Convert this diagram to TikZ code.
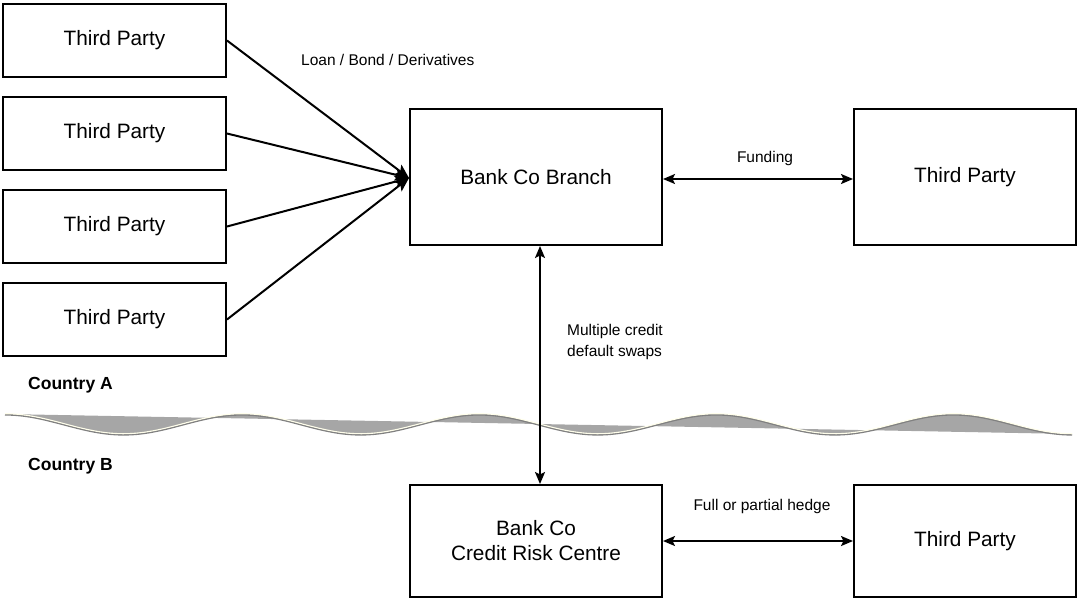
\documentclass[tikz,border=0pt]{standalone}
\usepackage{fontspec}
\setmainfont{Liberation Sans}
\usetikzlibrary{arrows.meta,calc}
\tikzset{
  box/.style={draw=black, line width=2pt, minimum width=223pt, minimum height=73pt, inner sep=0pt,
    font=\fontsize{20.8}{25}\selectfont, align=center},
  bigbox/.style={box, minimum width=252pt, minimum height=136pt},
  rbox/.style={box, minimum width=222pt, minimum height=136pt},
  lowbox/.style={box, minimum width=252pt, minimum height=112pt},
  lowrbox/.style={box, minimum width=222pt, minimum height=112pt},
  lbl/.style={font=\fontsize{15.5}{21}\selectfont, inner sep=0pt},
  country/.style={font=\fontsize{17.5}{21}\selectfont\bfseries, inner sep=0pt, anchor=west},
  conn/.style={line width=2pt, -{Stealth[length=14pt,width=12pt,inset=3pt]}},
  both/.style={line width=2pt, {Stealth[length=12pt,width=10pt,inset=2.5pt]}-{Stealth[length=12pt,width=10pt,inset=2.5pt]}},
}
\begin{document}
\begin{tikzpicture}[x=1pt,y=-1pt]
\useasboundingbox (0,0) rectangle (1078,598);
% wave
\fill[black!35] plot[domain=5:1072, samples=300] (\x, {424-10*cos(1.5183*(\x-5))}) -- cycle;
\draw[black!50, line width=1.6pt] plot[domain=5:1072, samples=300] (\x, {424.8-10*cos(1.5183*(\x-5))});
\draw[white!92!yellow, line width=1.1pt] plot[domain=5:1072, samples=300] (\x, {423.7-10*cos(1.5183*(\x-5))});
% nodes
\node[box] (tp1) at (114.5,40.5) {Third Party};
\node[box] (tp2) at (114.5,133.5) {Third Party};
\node[box] (tp3) at (114.5,226.5) {Third Party};
\node[box] (tp4) at (114.5,319.5) {Third Party};
\node[bigbox] (branch) at (536,177) {Bank Co Branch};
\node[rbox] (tpr) at (965,177) {Third Party};
\node[lowbox] (crc) at (536,541) {Bank Co\\Credit Risk Centre};
\node[lowrbox] (tpb) at (965,541) {Third Party};
\coordinate (conv) at ([yshift=-1pt]branch.west);
% connectors
\draw[conn] (tp1.east) -- (conv);
\draw[conn] (tp2.east) -- (conv);
\draw[conn] (tp3.east) -- (conv);
\draw[conn] (tp4.east) -- (conv);
\draw[both] ([yshift=-2pt]branch.east) -- ([yshift=-2pt]tpr.west);
\draw[both] ([xshift=4pt]branch.south) -- ([xshift=4pt]crc.north);
\draw[both] (crc.east) -- (tpb.west);
% labels
\node[lbl, anchor=west] (l1) at (301,60) {Loan / Bond / Derivatives};
\node[lbl] (l2) at (765,158) {Funding};
\node[lbl, anchor=north west, align=left] (l3) at (567,324) {Multiple credit\\default swaps};
\node[lbl] (l4) at (762,506) {Full or partial hedge};
\node[country] (ca) at (28,385) {Country A};
\node[country] (cb) at (28,466) {Country B};
\end{tikzpicture}
\end{document}
